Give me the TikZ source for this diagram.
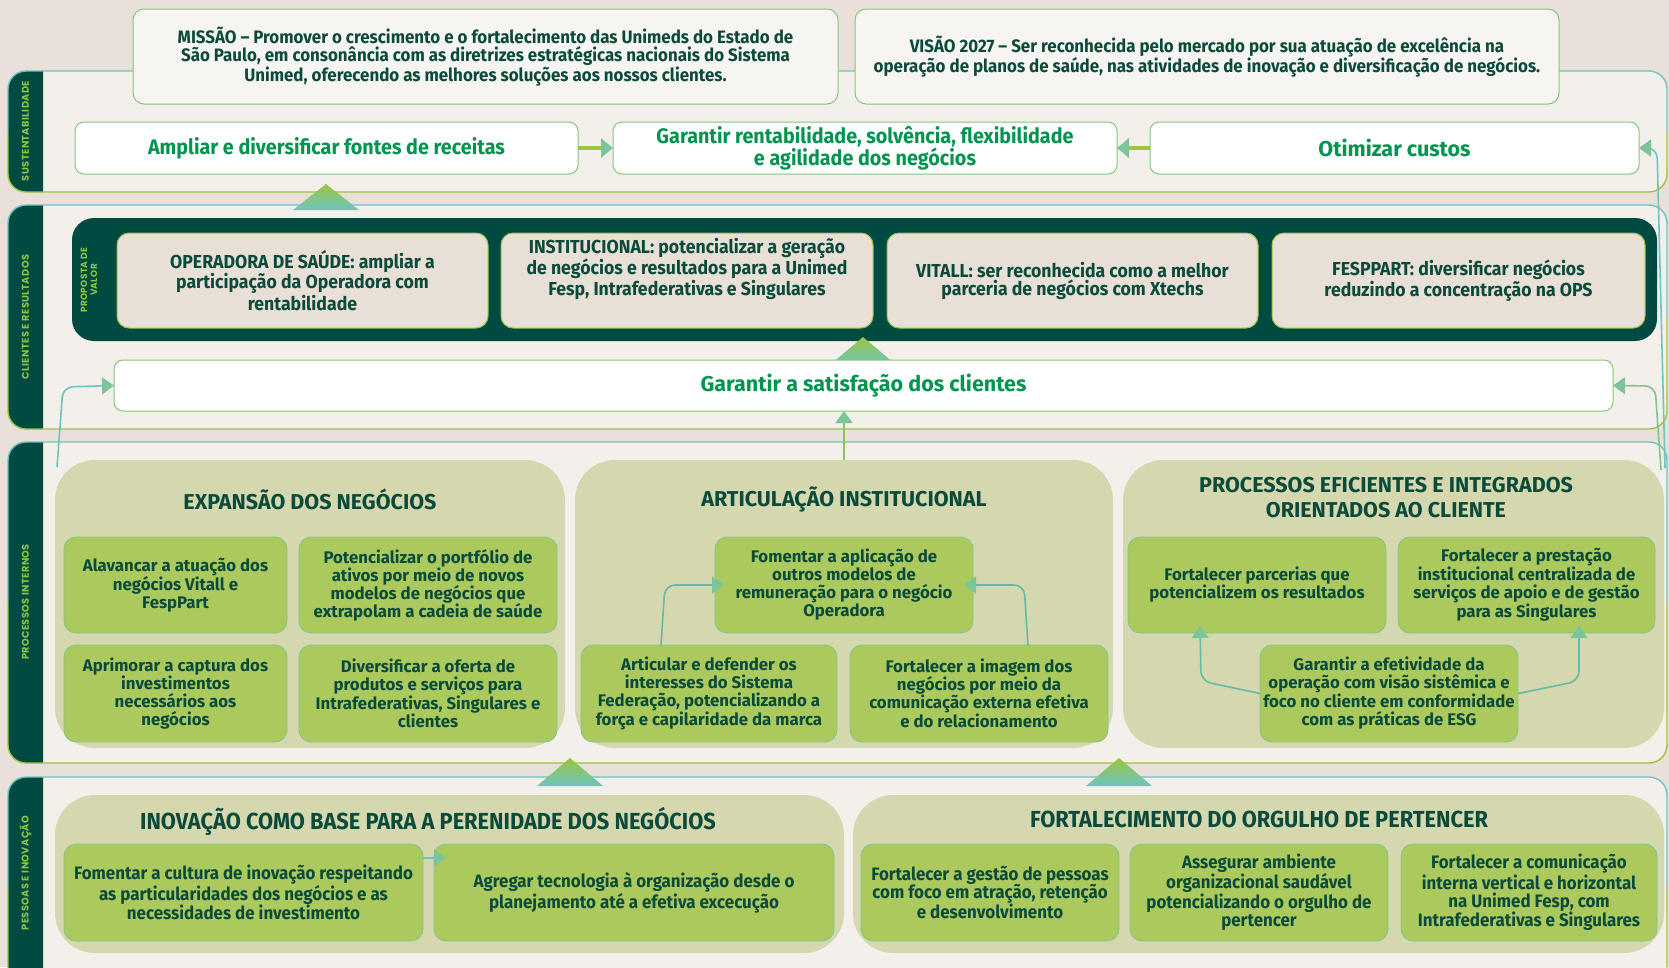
\documentclass[tikz,border=0pt]{standalone}
\usepackage{fontspec}
\setmainfont{Fira Sans}
\newfontfamily\condf{Fira Sans}[FakeStretch=0.94]
\newfontfamily\stripf{Poppins}[LetterSpace=4]
\usetikzlibrary{arrows.meta,calc}
\definecolor{pagebg}{HTML}{E9E1D9}
\definecolor{bandbg}{HTML}{F3EFEB}
\definecolor{darkg}{HTML}{004A42}
\definecolor{lteal}{HTML}{6CC5C1}
\definecolor{lgreen}{HTML}{9CC53E}
\definecolor{txtgreen}{HTML}{00944F}
\definecolor{txtdark}{HTML}{0A4A3A}
\definecolor{valbg}{HTML}{E8DFD6}
\definecolor{grpbg}{HTML}{D5D8AF}
\definecolor{boxg}{HTML}{ABC95C}
\definecolor{missbg}{HTML}{F7F5F1}
\definecolor{striptxt}{HTML}{8DC63F}
\definecolor{connc}{HTML}{62BBA6}
\definecolor{arrowc}{HTML}{7CC49A}
\tikzset{
  every node/.style={inner sep=0pt, outer sep=0pt},
  mvbox/.style={draw=lgreen!55!lteal, line width=1pt, fill=missbg, rounded corners=11, anchor=north west, align=center,
    text=txtdark, font={\condf\bfseries\fontsize{18}{18}\selectfont}},
  sbox/.style={draw=lgreen!50!lteal, line width=1pt, fill=white, rounded corners=9, anchor=north west, align=center,
    text=txtgreen, font={\condf\bfseries\fontsize{21}{21}\selectfont}},
  wsbox/.style={sbox, font={\bfseries\fontsize{21.5}{22}\selectfont}},
  valbox/.style={draw=lgreen, line width=1pt, fill=valbg, rounded corners=12, anchor=north west, align=center,
    text=txtdark, font={\condf\bfseries\fontsize{18.8}{18}\selectfont}},
  grp/.style={fill=grpbg, rounded corners=40, anchor=north west},
  gbox/.style={draw=lteal!60!lgreen, line width=0.8pt, fill=boxg, rounded corners=12, anchor=north west, align=center,
    text=txtdark, font={\bfseries\fontsize{16.8}{18}\selectfont}},
  cbox/.style={gbox, font={\condf\bfseries\fontsize{18}{18.3}\selectfont}},
  gtitle/.style={text=txtdark, align=center, font={\bfseries\fontsize{21.5}{25}\selectfont}},
  ctitle/.style={text=txtdark, align=center, font={\condf\bfseries\fontsize{23.2}{24}\selectfont}},
  striplabel/.style={text=striptxt, rotate=90, align=center, font={\stripf\bfseries\fontsize{9.8}{10.5}\selectfont}},
  tri/.style={top color=lgreen, bottom color=lteal, draw=none},
  thickconn/.style={draw=lgreen, line width=3.5pt, -{Triangle[length=12pt,width=19pt,color=arrowc]}},
  conn/.style={draw=connc, line width=1.6pt, rounded corners=10, -{Triangle[length=12pt,width=17pt,color=arrowc]}},
}
\newcommand{\drawband}[2]{%
  \fill[bandbg, rounded corners=18] (8,#1) rectangle (1667,#2);
  \begin{scope}
    \clip (0,#1-3) rectangle (43,#2+3);
    \fill[darkg, rounded corners=18] (8,#1) rectangle (80,#2);
  \end{scope}
  \draw[lteal, line width=1.4pt, rounded corners=18] (8,{(#1+#2)/2}) -- (8,#1) -- (1667,#1) -- (1667,{(#1+#2)/2});
  \draw[lgreen, line width=1.4pt, rounded corners=18] (8,{(#1+#2)/2}) -- (8,#2) -- (1667,#2) -- (1667,{(#1+#2)/2});
}
\begin{document}
\begin{tikzpicture}[x=1pt, y=-1pt]
\useasboundingbox (0,0) rectangle (1669,967);
\fill[pagebg] (0,0) rectangle (1669,967);

% bands
\drawband{71}{192}
\drawband{205}{429}
\drawband{442}{763}
\drawband{777}{995}
\node[striplabel] (lb1) at (25.5,131) {SUSTENTABILIDADE};
\node[striplabel] (lb2) at (25.5,317) {CLIENTES E RESULTADOS};
\node[striplabel] (lb3) at (25.5,602) {PROCESSOS INTERNOS};
\node[striplabel] (lb4) at (25.5,873) {PESSOAS E INOVAÇÃO};

% mission / vision
\node[mvbox, minimum width=705, minimum height=95] (mission) at (133,9)
  {MISSÃO – Promover o crescimento e o fortalecimento das Unimeds do Estado de\\São Paulo, em consonância com as diretrizes estratégicas nacionais do Sistema\\Unimed, oferecendo as melhores soluções aos nossos clientes.};
\node[mvbox, minimum width=704, minimum height=95] (vision) at (855,9)
  {VISÃO 2027 – Ser reconhecida pelo mercado por sua atuação de excelência na\\operação de planos de saúde, nas atividades de inovação e diversificação de negócios.};

% sustentabilidade
\node[sbox, minimum width=503, minimum height=52] (ampl) at (75,122) {Ampliar e diversificar fontes de receitas};
\node[sbox, minimum width=504, minimum height=52] (rent) at (613,122) {Garantir rentabilidade, solvência, flexibilidade\\e agilidade dos negócios};
\node[wsbox, minimum width=489, minimum height=52] (otim) at (1150,122) {Otimizar custos};
\draw[thickconn] (ampl.east) -- (rent.west);
\draw[thickconn] (otim.west) -- (rent.east);

% triangles between bands
\shade[tri] (293,210) -- (326,184) -- (359,210) -- cycle;

% proposta de valor
\node[fill=darkg, rounded corners=22, anchor=north west, minimum width=1585, minimum height=123] (frame) at (72,218) {};
\node[striplabel, font={\stripf\bfseries\fontsize{9}{10}\selectfont}] (pv) at (89,280) {PROPOSTA DE\\VALOR};
\node[valbox, minimum width=371, minimum height=95] (v1) at (117,233) {OPERADORA DE SAÚDE: ampliar a\\participação da Operadora com\\rentabilidade};
\node[valbox, minimum width=372, minimum height=95] (v2) at (501,233) {INSTITUCIONAL: potencializar a geração\\de negócios e resultados para a Unimed\\Fesp, Intrafederativas e Singulares\\[10pt]};
\node[valbox, minimum width=371, minimum height=95] (v3) at (887,233) {VITALL: ser reconhecida como a melhor\\parceria de negócios com Xtechs};
\node[valbox, minimum width=373, minimum height=95] (v4) at (1272,233) {FESPPART: diversificar negócios\\reduzindo a concentração na OPS};

\shade[tri] (831,364) -- (863,337) -- (895,364) -- cycle;

\node[wsbox, draw=lgreen!60!lteal, minimum width=1499, minimum height=51] (sat) at (114,360) {Garantir a satisfação dos clientes};

% processos internos groups
\node[grp, minimum width=510, minimum height=288] (gexp) at (55,460) {};
\node[grp, minimum width=538, minimum height=288] (gart) at (575,460) {};
\node[grp, minimum width=541, minimum height=288] (gpe) at (1123,460) {};

\node[gtitle] (texp) at (310,499) {EXPANSÃO DOS NEGÓCIOS};
\node[gtitle] (tart) at (844,499) {ARTICULAÇÃO INSTITUCIONAL};
\node[gtitle] (tpe) at (1386,498) {PROCESSOS EFICIENTES E INTEGRADOS\\ORIENTADOS AO CLIENTE};

\node[gbox, minimum width=223, minimum height=96] (e1) at (64,537) {Alavancar a atuação dos\\negócios Vitall e\\FespPart};
\node[gbox, minimum width=258, minimum height=96] (e2) at (299,537) {Potencializar o portfólio de\\ativos por meio de novos\\modelos de negócios que\\extrapolam a cadeia de saúde};
\node[gbox, minimum width=223, minimum height=97] (e3) at (64,645) {Aprimorar a captura dos\\investimentos\\necessários aos\\negócios};
\node[gbox, minimum width=258, minimum height=97] (e4) at (299,645) {Diversificar a oferta de\\produtos e serviços para\\Intrafederativas, Singulares e\\clientes};

\node[gbox, minimum width=258, minimum height=96] (a1) at (715,537) {Fomentar a aplicação de\\outros modelos de\\remuneração para o negócio\\Operadora};
\node[gbox, minimum width=256, minimum height=97] (a2) at (581,645) {Articular e defender os\\interesses do Sistema\\Federação, potencializando a\\força e capilaridade da marca};
\node[gbox, minimum width=258, minimum height=97] (a3) at (850,645) {Fortalecer a imagem dos\\negócios por meio da\\comunicação externa efetiva\\e do relacionamento};

\node[gbox, minimum width=258, minimum height=96] (p1) at (1128,537) {Fortalecer parcerias que\\potencializem os resultados};
\node[gbox, minimum width=257, minimum height=96] (p2) at (1398,537) {Fortalecer a prestação\\institucional centralizada de\\serviços de apoio e de gestão\\para as Singulares};
\node[gbox, minimum width=258, minimum height=97] (p3) at (1260,645) {Garantir a efetividade da\\operação com visão sistêmica e\\foco no cliente em conformidade\\com as práticas de ESG};

% connectors in processos
\draw[conn] ($(a2.north west)+(80,0)$) -- (665,585) -- ($(a1.west)+(9,0)$);
\draw[conn] ($(a3.north west)+(178,0)$) -- (1024,585) -- ($(a1.east)+(-9,0)$);
\draw[conn] (p3.west) -- (1201,681) -- ($(p1.south west)+(72,-7)$);
\draw[conn] (p3.east) -- (1579,681) -- ($(p2.south west)+(181,-7)$);
\draw[conn, draw=lgreen!70!connc] (gart.north) -- (gart.north |- sat.south);

% long connectors
\coordinate (lc) at (57,467);
\coordinate (rc1) at (1665,468);
\coordinate (rc2) at (1661,470);
\draw[conn, draw=lteal] (lc) -- (63,387) -- (sat.west);
\draw[conn, draw=lteal] (rc1) -- (1657,148) -- (otim.east);
\draw[conn, draw=lteal!60!lgreen] (rc2) -- (1655,386) -- (sat.east);

% triangles to band 3
\shade[tri] (537,786) -- (570,758) -- (603,786) -- cycle;
\shade[tri] (1086,786) -- (1119,758) -- (1152,786) -- cycle;

% pessoas e inovacao
\node[grp, minimum width=789, minimum height=158] (ginov) at (55,795) {};
\node[grp, minimum width=811, minimum height=158] (gorg) at (853,795) {};
\node[ctitle] (tinov) at (428,821) {INOVAÇÃO COMO BASE PARA A PERENIDADE DOS NEGÓCIOS};
\node[ctitle] (torg) at (1259,819) {FORTALECIMENTO DO ORGULHO DE PERTENCER};
\node[cbox, minimum width=359, minimum height=97] (i1) at (64,844) {Fomentar a cultura de inovação respeitando\\as particularidades dos negócios e as\\necessidades de investimento};
\node[cbox, minimum width=400, minimum height=97] (i2) at (434,844) {Agregar tecnologia à organização desde o\\planejamento até a efetiva excecução};
\draw[conn, draw=lteal, rounded corners=0] ($(i1.north east)+(0,14)$) -- ($(i2.north west)+(12,14)$);
\node[cbox, minimum width=258, minimum height=97] (o1) at (861,844) {Fortalecer a gestão de pessoas\\com foco em atração, retenção\\e desenvolvimento};
\node[cbox, minimum width=258, minimum height=97] (o2) at (1130,844) {Assegurar ambiente\\organizacional saudável\\potencializando o orgulho de\\pertencer};
\node[cbox, minimum width=256, minimum height=97] (o3) at (1401,844) {Fortalecer a comunicação\\interna vertical e horizontal\\na Unimed Fesp, com\\Intrafederativas e Singulares};
\end{tikzpicture}
\end{document}
